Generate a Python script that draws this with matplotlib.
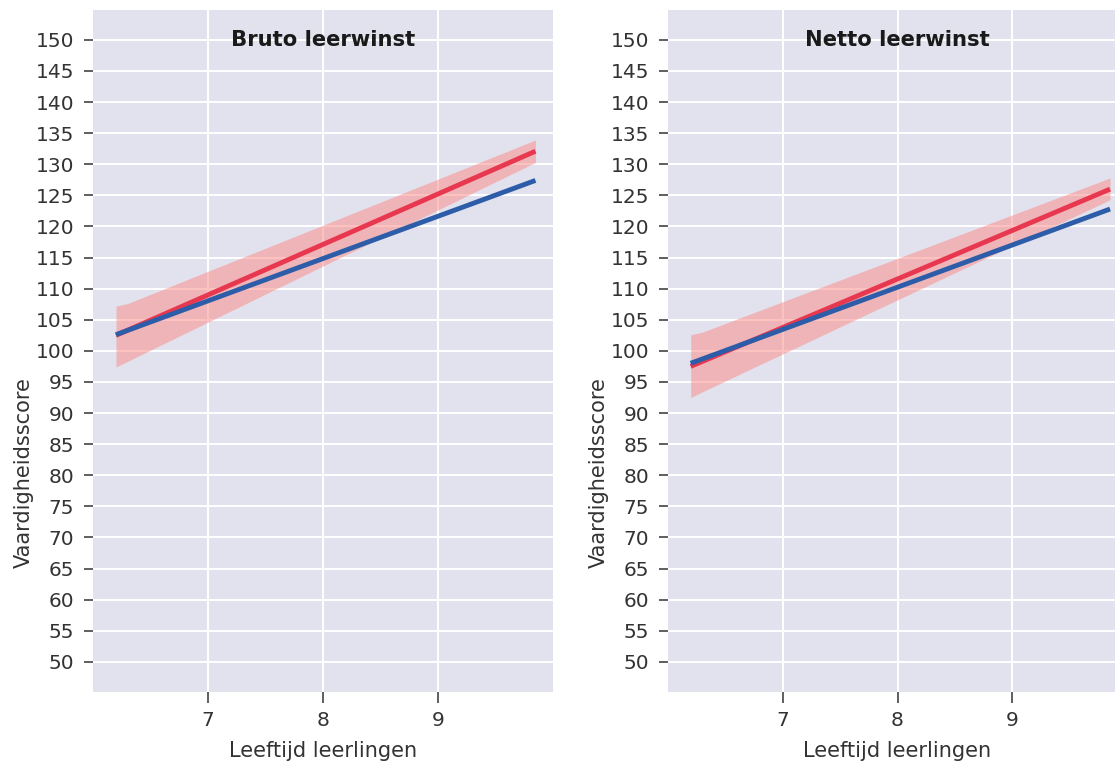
import matplotlib
matplotlib.use("Agg")
import matplotlib.pyplot as plt

# ---- data ----
titles = ["Bruto leerwinst", "Netto leerwinst"]
xlabel = "Leeftijd leerlingen"
ylabel = "Vaardigheidsscore"
xticks = [7, 8, 9]
yticks = list(range(50, 151, 5))

line_x = [6.2, 9.85]
bruto_red = [102.5, 132.1]
bruto_blue = [102.6, 127.4]
netto_red = [97.5, 126.0]
netto_blue = [98.0, 122.8]

band_x = [6.2, 6.3, 9.85]
bruto_band_lo = [97.4, 98.3, 130.3]
bruto_band_hi = [107.2, 107.6, 133.9]
netto_band_lo = [92.5, 93.4, 124.3]
netto_band_hi = [102.6, 103.0, 127.8]

panels = [
    (bruto_red, bruto_blue, bruto_band_lo, bruto_band_hi),
    (netto_red, netto_blue, netto_band_lo, netto_band_hi),
]

# ---- style ----
W, H = 1115, 762
fig = plt.figure(figsize=(W / 100, H / 100), dpi=100)
bg = "#E2E2EE"
txt = "#333333"
red = "#E8384F"
blue = "#2D5DA8"
band = "#FC8884"

ax_px = [(93, 552.7), (667.7, 1127.3)]
top_px, bot_px = 10, 691.7

for i, (rv, bv, lo, hi) in enumerate(panels):
    x0, x1 = ax_px[i]
    ax = fig.add_axes([x0 / W, 1 - bot_px / H, (x1 - x0) / W, (bot_px - top_px) / H])
    ax.set_facecolor(bg)
    for s in ax.spines.values():
        s.set_visible(False)
    ax.set_xlim(6, 10)
    ax.set_ylim(45.2, 154.8)
    ax.set_xticks(xticks)
    ax.set_yticks(yticks)
    ax.grid(True, color="white", linewidth=1.4)
    ax.set_axisbelow(True)
    ax.tick_params(axis="y", length=6.5, width=1.1, color=txt, pad=7,
                   labelsize=14.5, labelcolor=txt)
    ax.tick_params(axis="x", length=8, width=1.1, color=txt, pad=6,
                   labelsize=14.5, labelcolor=txt)

    ax.fill_between(band_x, lo, hi, color=band, alpha=0.5, linewidth=0, zorder=2)
    ax.plot(line_x, rv, color=red, linewidth=3.5, solid_capstyle="butt", zorder=3)
    ax.plot(line_x, bv, color=blue, linewidth=3.5, solid_capstyle="butt", zorder=4)

    ax.text(8.0, 150, titles[i], ha="center", va="center", fontsize=15.2,
            fontweight="bold", color="#1a1a1a", zorder=5)
    ax.set_xlabel(xlabel, fontsize=15, color=txt, labelpad=8)
    ax.set_ylabel(ylabel, fontsize=15, color=txt)
    ax.yaxis.set_label_coords(-0.128, 0.322)

fig.savefig("out.png", dpi=100, facecolor="white")
